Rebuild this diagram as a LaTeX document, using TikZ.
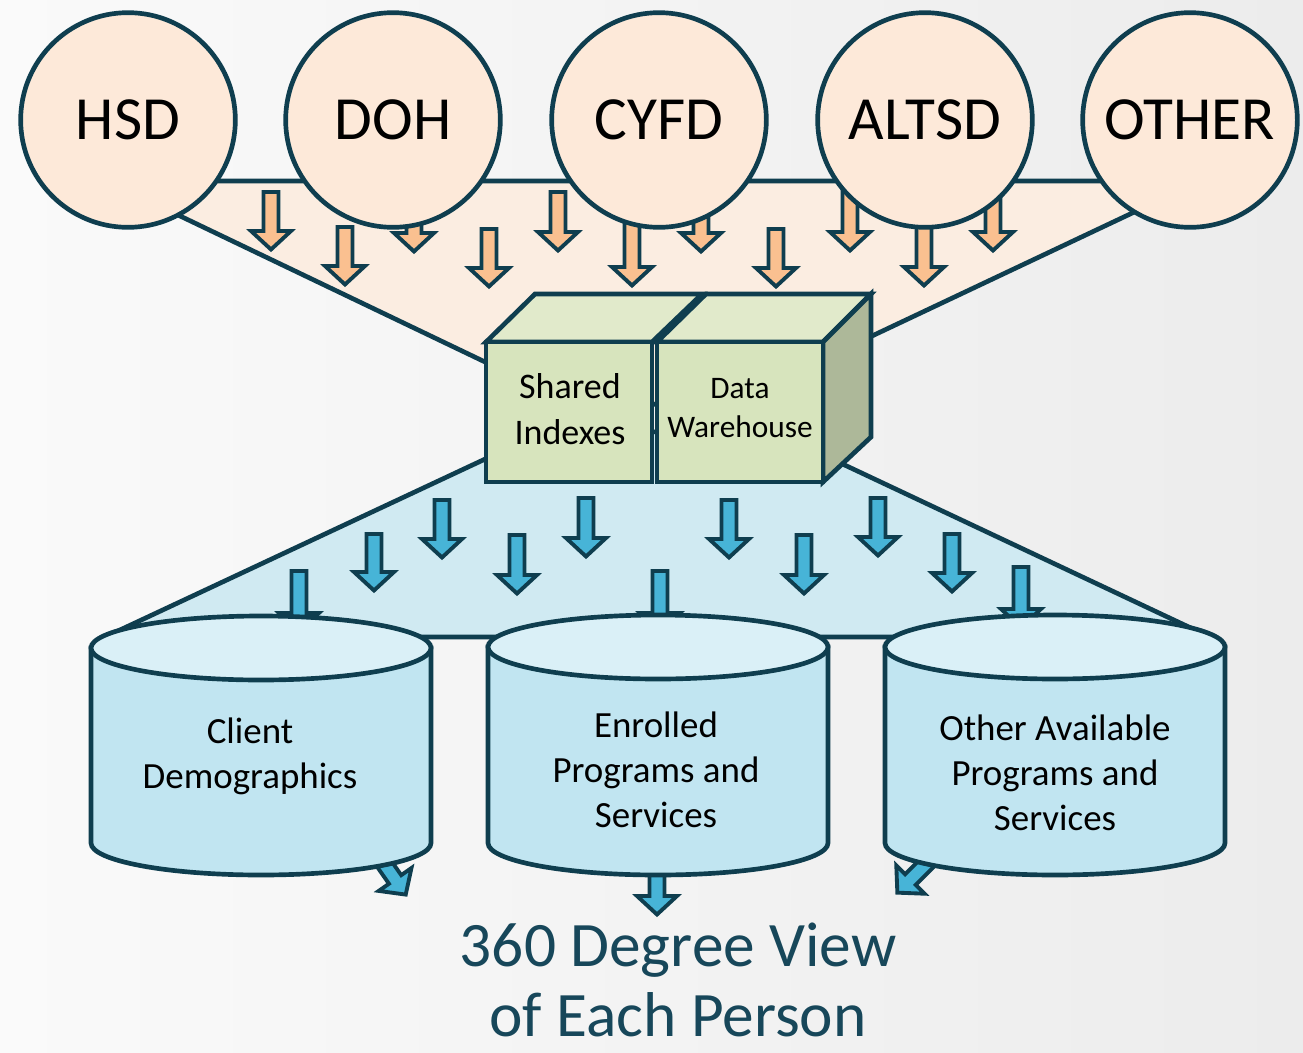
\documentclass[tikz,border=0pt]{standalone}
\usepackage{fontspec}
\setmainfont{Carlito}
\definecolor{ink}{HTML}{0F3E4F}
\definecolor{circfill}{HTML}{FDE9D9}
\definecolor{orangebg}{HTML}{FBEDE1}
\definecolor{orangearr}{HTML}{FAC090}
\definecolor{cubefront}{HTML}{D7E4BD}
\definecolor{cubetop}{HTML}{E1EACB}
\definecolor{cubeside}{HTML}{ADB899}
\definecolor{bluebg}{HTML}{D0EAF2}
\definecolor{cylbody}{HTML}{C1E5F1}
\definecolor{cyltop}{HTML}{DAF0F7}
\definecolor{bluearr}{HTML}{47B4D7}
\definecolor{titlecol}{HTML}{17475A}
\definecolor{bgA}{HTML}{FAFAFA}
\definecolor{bgB}{HTML}{ECECEC}
\tikzset{
  outline/.style={draw=ink, line width=3.5pt, line join=miter},
  arrowline/.style={draw=ink, line width=2.9pt, line join=miter},
  agency/.style={circle, outline, fill=circfill, minimum size=161pt, inner sep=0pt,
    font=\fontsize{46}{50}\selectfont, text=black},
  cubetextA/.style={align=center, inner sep=0pt, font=\fontsize{27}{34}\selectfont, text=black},
  cubetextB/.style={align=center, inner sep=0pt, font=\fontsize{23.5}{29}\selectfont, text=black},
  cyltext/.style={align=center, inner sep=0pt, font=\fontsize{27.7}{33.75}\selectfont, text=black},
  titletext/.style={align=center, inner sep=0pt, font=\fontsize{47.5}{52}\selectfont, text=titlecol},
}
% block arrow: fill, x, top, tip
\newcommand{\BArr}[4]{\draw[arrowline, fill=#1] (#2-7.5,#3+2) -- (#2+7.5,#3+2) -- (#2+7.5,#4-21) -- (#2+20,#4-21) -- (#2,#4-2.5) -- (#2-20,#4-21) -- (#2-7.5,#4-21) -- cycle;}
% tilted block arrow: tip at origin of current scope
\newcommand{\TArr}[1]{\draw[arrowline, fill=#1] (-7.5,-60) -- (7.5,-60) -- (7.5,-19) -- (20,-19) -- (0,-0.5) -- (-20,-19) -- (-7.5,-19) -- cycle;}
% cylinder: centre x, top ellipse y, bottom ellipse y
\newcommand{\Cyl}[3]{%
  \draw[outline, fill=cylbody] (#1-170,#2) -- (#1-170,#3)
    .. controls (#1-170,#3+17.7) and (#1-94,#3+32) .. (#1,#3+32)
    .. controls (#1+94,#3+32) and (#1+170,#3+17.7) .. (#1+170,#3) -- (#1+170,#2) -- cycle;
  \draw[outline, fill=cyltop] (#1,#2) ellipse [x radius=170, y radius=32];}
\begin{document}
\begin{tikzpicture}[x=0.75pt, y=-0.75pt]
\useasboundingbox (0,0) rectangle (1303,1053);
\shade[left color=bgA, right color=bgB] (0,0) rectangle (1303,1053);

% orange funnel
\draw[outline, fill=orangebg] (107,181) -- (1200,181) -- (800,370) -- (600,417) -- cycle;
% orange arrows
\BArr{orangearr}{271}{190}{252}
\BArr{orangearr}{345}{225}{287}
\BArr{orangearr}{414}{185}{254}
\BArr{orangearr}{489}{227}{289}
\BArr{orangearr}{558}{190}{253}
\BArr{orangearr}{632}{185}{288}
\BArr{orangearr}{701}{185}{254}
\BArr{orangearr}{776}{227}{289}
\BArr{orangearr}{850}{185}{253}
\BArr{orangearr}{924}{185}{288}
\BArr{orangearr}{993}{185}{253}

% agencies
\node[agency] (hsd) at (128,120) {HSD};
\node[agency] (doh) at (393,120) {DOH};
\node[agency] (cyfd) at (659,120) {CYFD};
\node[agency] (altsd) at (925,120) {ALTSD};
\node[agency] (other) at (1190,120) {OTHER};

% blue funnel
\draw[outline, fill=bluebg] (105,637) -- (560,424) -- (800,444) -- (1210,637) -- cycle;

% cube
\draw[outline, fill=cubetop] (486,342) -- (535,294) -- (702,294) -- (652,342) -- cycle;
\draw[outline, fill=cubetop] (657,342) -- (706,294) -- (871,294) -- (823,342) -- cycle;
\draw[outline, fill=cubeside] (823,342) -- (871,294) -- (871,437) -- (823,482) -- cycle;
\draw[outline, fill=cubefront] (486,342) rectangle (652,482);
\draw[outline, fill=cubefront] (657,342) rectangle (823,482);
\node[cubetextA] (shared) at (570,409) {Shared\\Indexes};
\node[cubetextB] (dw) at (740,408) {Data\\Warehouse};

% blue arrows
\BArr{bluearr}{442}{498}{560}
\BArr{bluearr}{374}{532}{593}
\BArr{bluearr}{517}{533}{596}
\BArr{bluearr}{586}{496}{559}
\BArr{bluearr}{299}{569}{634}
\BArr{bluearr}{660}{569}{634}
\BArr{bluearr}{729}{498}{560}
\BArr{bluearr}{804}{533}{596}
\BArr{bluearr}{878}{496}{558}
\BArr{bluearr}{952}{532}{594}
\BArr{bluearr}{1021}{565}{630}

% output arrows
\begin{scope}[shift={(406,895)}, rotate=35]\TArr{bluearr}\end{scope}
\BArr{bluearr}{657}{850}{917}
\begin{scope}[shift={(897,893)}, rotate=-45]\TArr{bluearr}\end{scope}

% cylinders
\Cyl{261}{648}{843}
\Cyl{658}{647}{843}
\Cyl{1055}{647}{843}
\node[cyltext] (client) at (250,756) {Client\\Demographics};
\node[cyltext] (enrolled) at (656,770) {Enrolled\\Programs and\\Services};
\node[cyltext] (otheravail) at (1055,773) {Other Available\\Programs and\\Services};

% title
\node[titletext] (view) at (678,980) {360 Degree View\\of Each Person};
\end{tikzpicture}
\end{document}
